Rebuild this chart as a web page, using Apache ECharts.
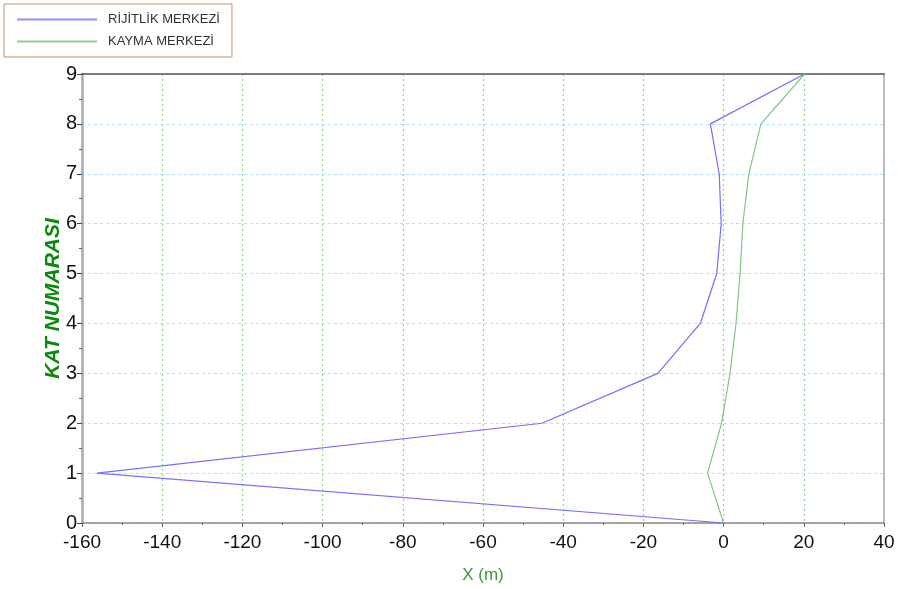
<!DOCTYPE html>
<html><head><meta charset="utf-8">
<script src="https://cdn.jsdelivr.net/npm/echarts@6/dist/echarts.min.js"></script>
<style>html,body{margin:0;padding:0;background:#fff}#c{width:898px;height:589px}</style>
</head><body><div id="c"></div>
<script>
const floors = [0,1,2,3,4,5,6,7,8,9];
const rigidityX = [0,-156.3,-45.3,-16.4,-5.8,-1.7,-0.6,-1.1,-3.3,20.2];
const shearX = [0,-4.0,-0.5,1.6,3.1,4.1,4.8,6.3,9.3,20.2];
const xTicks = {min:-160,max:40,interval:20};
const yTicks = {min:0,max:9,interval:1};

const chart = echarts.init(document.getElementById('c'));
const font = 'Liberation Sans, Arial, sans-serif';
chart.setOption({
  animation:false,
  grid:{left:82,right:14,top:74,bottom:65},
  legend:{
    orient:'vertical',left:4,top:4,
    padding:[9,12,9,13],itemGap:9,
    borderColor:'#c89070',borderWidth:1,
    itemWidth:80,itemHeight:2,icon:'rect',
    textStyle:{fontFamily:font,fontSize:13,color:'#333',padding:[0,0,0,6],width:118},
    data:['RİJİTLİK MERKEZİ','KAYMA MERKEZİ']
  },
  xAxis:[{
    type:'value',min:xTicks.min,max:xTicks.max,interval:xTicks.interval,
    name:'X (m)',nameLocation:'middle',nameGap:44,
    nameTextStyle:{color:'#3a9a3a',fontFamily:font,fontSize:17},
    axisLine:{onZero:false,lineStyle:{color:'#888',width:1.5}},
    axisTick:{show:true,length:4,lineStyle:{color:'#666'}},
    minorTick:{show:true,splitNumber:2,length:2,lineStyle:{color:'#666'}},
    axisLabel:{color:'#111',fontFamily:font,fontSize:19,margin:10},
    splitLine:{show:true,lineStyle:{color:'#90d890',type:[2,3],width:1.2}}
  },{
    type:'value',position:'top',min:xTicks.min,max:xTicks.max,
    axisLine:{show:true,onZero:false,lineStyle:{color:'#555',width:1.5}},
    axisTick:{show:false},axisLabel:{show:false},splitLine:{show:false}
  }],
  yAxis:[{
    type:'value',min:yTicks.min,max:yTicks.max,interval:yTicks.interval,
    name:'KAT NUMARASI',nameLocation:'middle',nameGap:18,nameMoveOverlap:false,
    nameTextStyle:{color:'#0a8a0a',fontFamily:font,fontSize:21,fontStyle:'italic',fontWeight:'bold'},
    axisLine:{show:true,onZero:false,lineStyle:{color:'#aaa',width:2.5}},
    axisTick:{show:true,length:5,lineStyle:{color:'#444'}},
    minorTick:{show:true,splitNumber:2,length:3,lineStyle:{color:'#666'}},
    axisLabel:{color:'#111',fontFamily:font,fontSize:20,margin:5},
    splitLine:{show:true,lineStyle:{color:'#b0e0ff',type:[3,3],width:1}}
  },{
    type:'value',position:'right',min:yTicks.min,max:yTicks.max,
    axisLine:{show:true,onZero:false,lineStyle:{color:'#bbb',width:2}},
    axisTick:{show:false},axisLabel:{show:false},splitLine:{show:false}
  }],
  series:[{
    name:'RİJİTLİK MERKEZİ',type:'line',symbol:'none',
    lineStyle:{color:'#7070ff',width:1.2},itemStyle:{color:'#9090ff'},
    data:floors.map((f,i)=>[rigidityX[i],f])
  },{
    name:'KAYMA MERKEZİ',type:'line',symbol:'none',
    lineStyle:{color:'#80c880',width:1.2},itemStyle:{color:'#90d090'},
    data:floors.map((f,i)=>[shearX[i],f])
  }]
});
</script></body></html>
